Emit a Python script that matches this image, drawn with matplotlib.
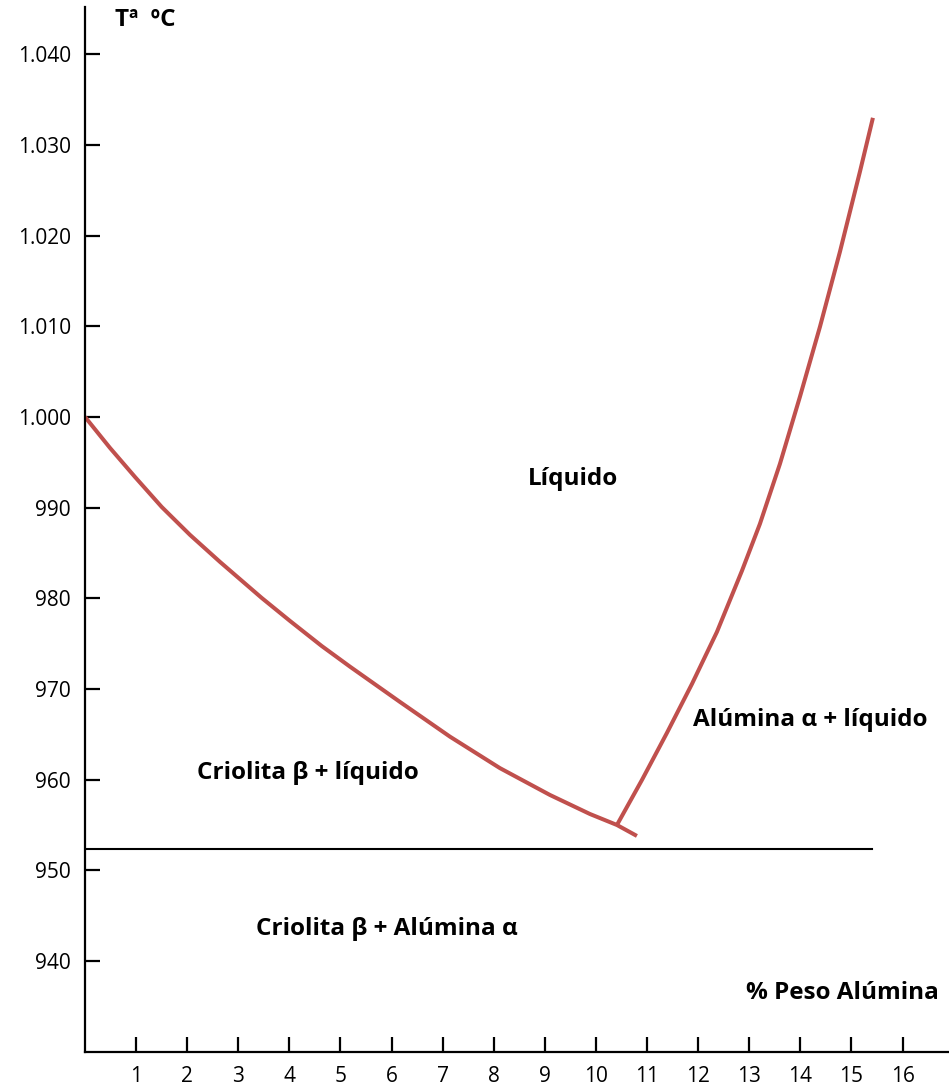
import numpy as np
import matplotlib.pyplot as plt
from matplotlib.ticker import FixedLocator, FuncFormatter

# Liquidus curve, cryolite side (% alumina, temperature)
criolita_x = [0.0, 0.489, 0.978, 1.501, 2.055, 2.642, 3.458, 4.012, 4.632, 5.186,
              6.164, 7.143, 8.121, 9.100, 9.883, 10.411, 10.802]
criolita_t = [1000.0, 996.58, 993.38, 990.07, 986.99, 984.01, 980.04, 977.50, 974.74, 972.46,
              968.57, 964.74, 961.27, 958.31, 956.21, 955.00, 953.79]

# Liquidus curve, alumina side
alumina_x = [10.411, 10.900, 11.389, 11.879, 12.368, 12.857, 13.209, 13.601, 13.992,
             14.384, 14.775, 15.166, 15.421]
alumina_t = [955.00, 959.96, 965.15, 970.55, 976.29, 983.02, 988.20, 994.82, 1002.21,
             1009.93, 1018.20, 1027.02, 1032.98]

# Eutectic line
eutectic_x = [0.0, 15.4]
eutectic_t = [952.3, 952.3]

x_ticks = list(range(1, 17))
y_ticks = [940, 950, 960, 970, 980, 990, 1000, 1010, 1020, 1030, 1040]

plt.rcParams['font.family'] = ['Open Sans', 'DejaVu Sans']

fig = plt.figure(figsize=(9.49, 10.85), dpi=100)
ax = fig.add_axes([85 / 949, 1 - 1051.7 / 1085, 1 - 85 / 949, (1051.7 - 7) / 1085])

red = '#C0504D'
ax.plot(criolita_x, criolita_t, color=red, lw=2.9, solid_capstyle='butt', solid_joinstyle='round')
ax.plot(alumina_x, alumina_t, color=red, lw=2.9, solid_capstyle='butt', solid_joinstyle='round')
ax.plot(eutectic_x, eutectic_t, color='black', lw=1.5)

ax.set_xlim(0, 16.91)
ax.set_ylim(930, 1045.2)

for side in ['top', 'right']:
    ax.spines[side].set_visible(False)
for side in ['left', 'bottom']:
    ax.spines[side].set_linewidth(1.6)

ax.xaxis.set_major_locator(FixedLocator(x_ticks))
ax.yaxis.set_major_locator(FixedLocator(y_ticks))
ax.yaxis.set_major_formatter(FuncFormatter(
    lambda v, p: f'{int(v):,}'.replace(',', '.') if v >= 1000 else f'{int(v)}'))
ax.tick_params(direction='in', length=11, width=1.6, labelsize=15, pad=10)

bold = dict(fontsize=17.5, fontweight='bold')
ax.text(0.58, 1043.8, 'Tª  ºC', ha='left', va='center', **bold)
ax.text(9.55, 993.2, 'Líquido', ha='center', va='center', **bold)
ax.text(11.9, 966.6, 'Alúmina α + líquido', ha='left', va='center', **bold)
ax.text(2.19, 960.7, 'Criolita β + líquido', ha='left', va='center', **bold)
ax.text(3.35, 943.5, 'Criolita β + Alúmina α', ha='left', va='center', **bold)
ax.text(12.94, 936.5, '% Peso Alúmina', ha='left', va='center', **bold)

fig.savefig('out.png', dpi=100)
